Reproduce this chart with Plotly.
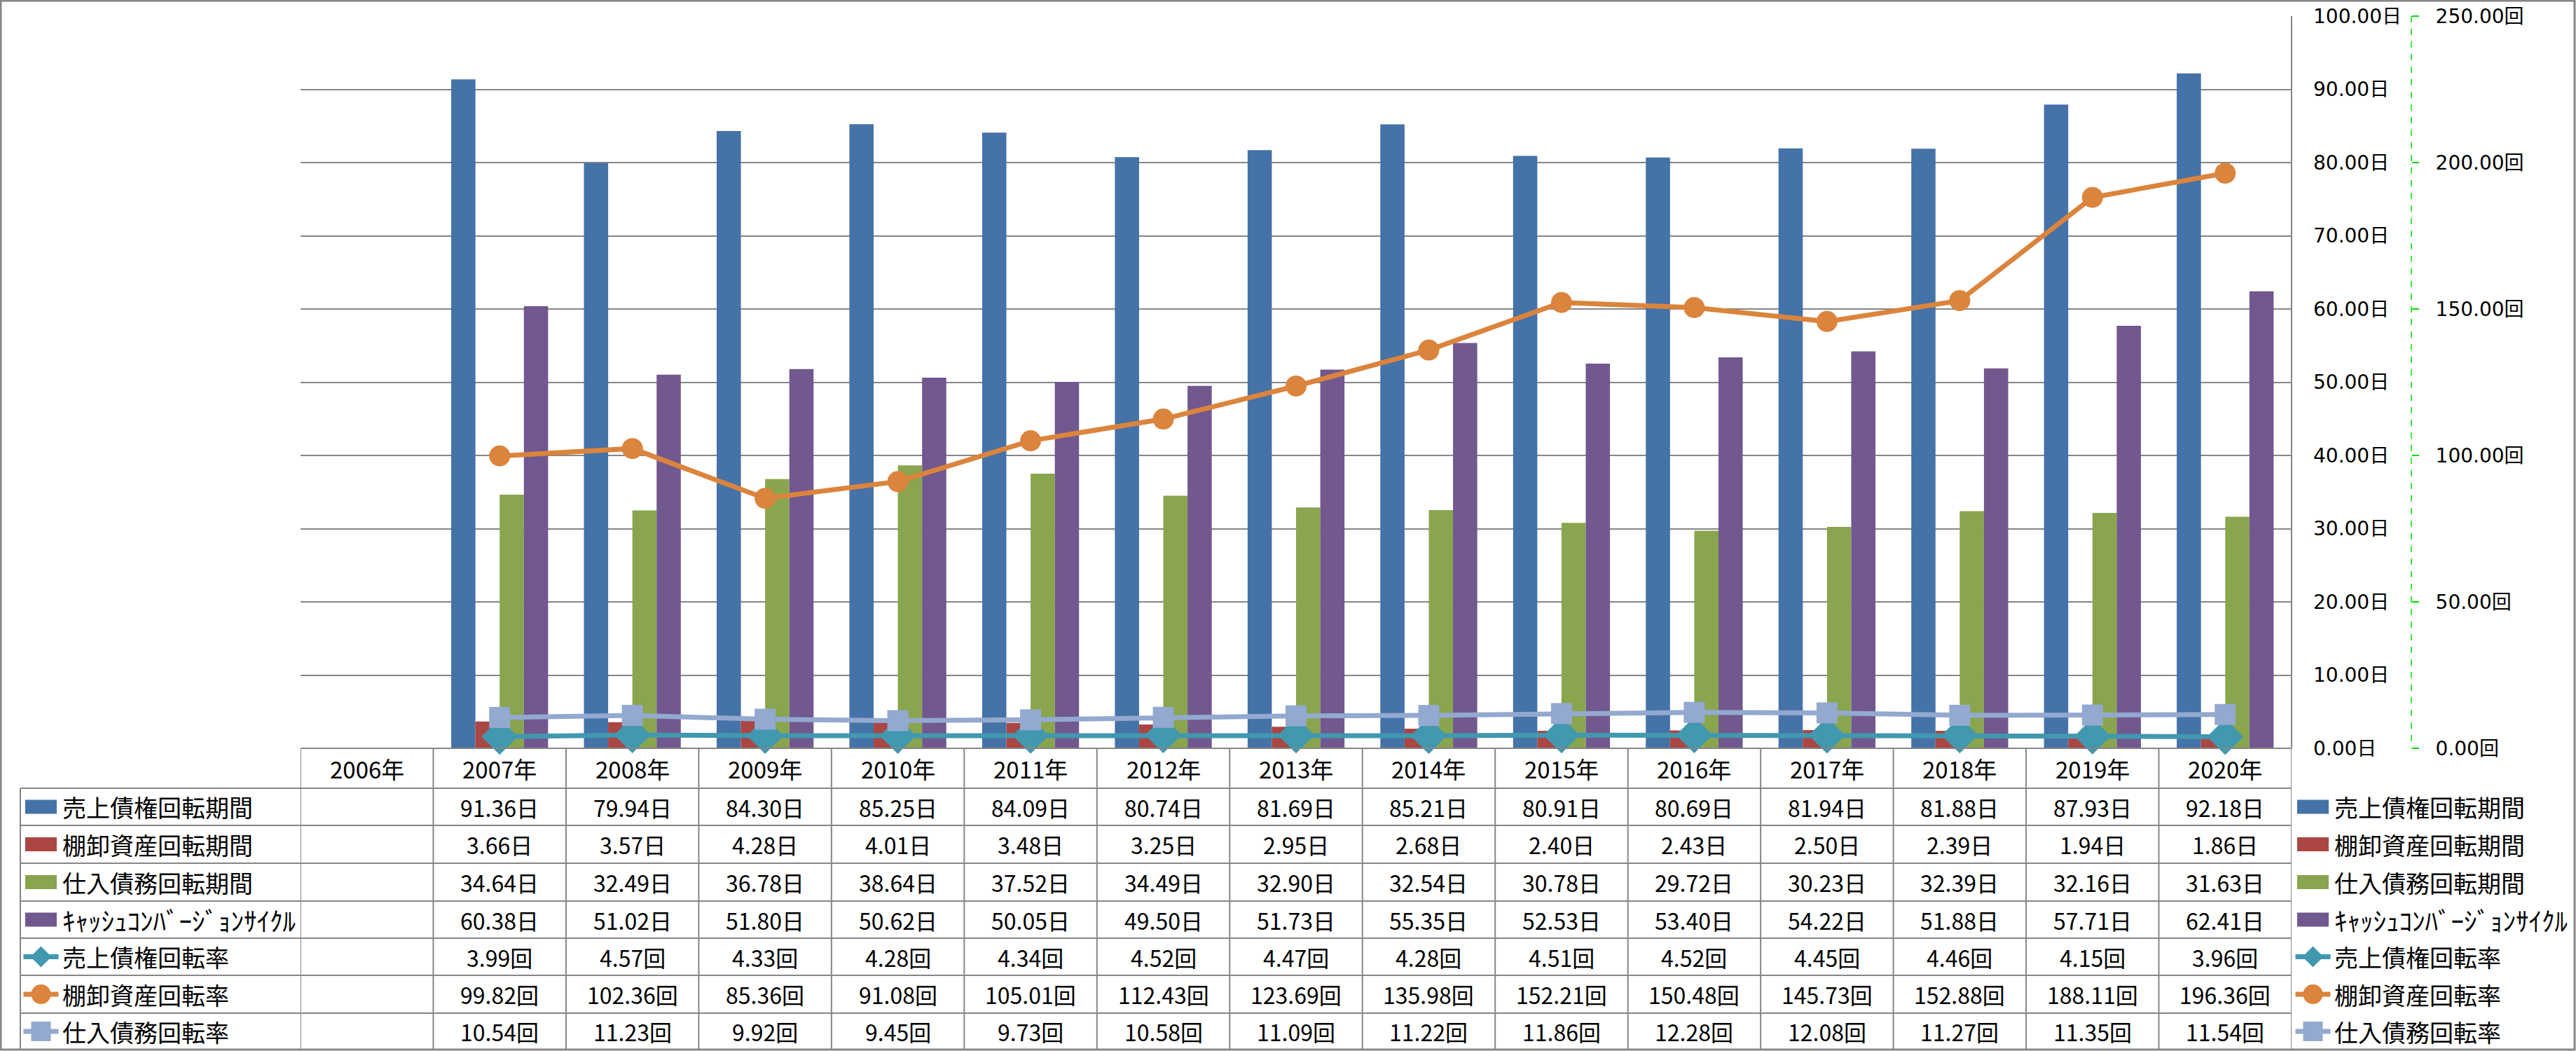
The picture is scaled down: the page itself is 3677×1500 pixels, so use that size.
import plotly.graph_objects as go

# ---------------- data ----------------
categories = ["2006年", "2007年", "2008年", "2009年", "2010年", "2011年", "2012年", "2013年",
              "2014年", "2015年", "2016年", "2017年", "2018年", "2019年", "2020年"]

ar_days = [None, 91.36, 79.94, 84.30, 85.25, 84.09, 80.74, 81.69, 85.21, 80.91, 80.69, 81.94, 81.88, 87.93, 92.18]
inv_days = [None, 3.66, 3.57, 4.28, 4.01, 3.48, 3.25, 2.95, 2.68, 2.40, 2.43, 2.50, 2.39, 1.94, 1.86]
ap_days = [None, 34.64, 32.49, 36.78, 38.64, 37.52, 34.49, 32.90, 32.54, 30.78, 29.72, 30.23, 32.39, 32.16, 31.63]
ccc_days = [None, 60.38, 51.02, 51.80, 50.62, 50.05, 49.50, 51.73, 55.35, 52.53, 53.40, 54.22, 51.88, 57.71, 62.41]
ar_turn = [None, 3.99, 4.57, 4.33, 4.28, 4.34, 4.52, 4.47, 4.28, 4.51, 4.52, 4.45, 4.46, 4.15, 3.96]
inv_turn = [None, 99.82, 102.36, 85.36, 91.08, 105.01, 112.43, 123.69, 135.98, 152.21, 150.48, 145.73, 152.88, 188.11, 196.36]
ap_turn = [None, 10.54, 11.23, 9.92, 9.45, 9.73, 10.58, 11.09, 11.22, 11.86, 12.28, 12.08, 11.27, 11.35, 11.54]

bar_names = ["売上債権回転期間", "棚卸資産回転期間", "仕入債務回転期間", "ｷｬｯｼｭｺﾝﾊﾞｰｼﾞｮﾝｻｲｸﾙ"]
line_names = ["売上債権回転率", "棚卸資産回転率", "仕入債務回転率"]
bar_series = [ar_days, inv_days, ap_days, ccc_days]
line_series = [ar_turn, inv_turn, ap_turn]
bar_colors = ["#4572A7", "#AA4643", "#89A54E", "#71588F"]
line_colors = ["#4198AF", "#DB843D", "#93A9CF"]
line_symbols = ["diamond", "circle", "square"]
line_marker_sizes = [40, 30, 30]

# ---------------- geometry (pixels) ----------------
W, H = 3677, 1500
PL, PR, PT, PB = 429, 3271, 23, 1068
ROW_EDGES = [1068, 1125, 1178, 1232, 1286, 1339, 1392, 1446, 1498]
TABLE_LEFT = 29
AX2_X = 3442
GRAY = "#868686"
TXT_FONT = "Noto Sans CJK JP"
AX_FONT = "DejaVu Sans, Noto Sans CJK JP"


def px(x):
    return x / W


def py(y):
    return 1 - y / H


fig = go.Figure()

for name, vals, col in zip(bar_names, bar_series, bar_colors):
    fig.add_trace(go.Bar(x=categories, y=vals, name=name, marker=dict(color=col, line=dict(width=0)),
                         yaxis="y", showlegend=False))

for name, vals, col, sym, sz in zip(line_names, line_series, line_colors, line_symbols, line_marker_sizes):
    fig.add_trace(go.Scatter(x=categories, y=vals, name=name, yaxis="y2", mode="lines+markers",
                             line=dict(color=col, width=7),
                             marker=dict(symbol=sym, size=sz, color=col, line=dict(width=0)),
                             showlegend=False, cliponaxis=False))

shapes = []
annotations = []

# table horizontal lines
for i, y in enumerate(ROW_EDGES):
    x0 = PL if i == 0 else TABLE_LEFT
    shapes.append(dict(type="line", xref="paper", yref="paper", x0=px(x0), x1=px(PR),
                       y0=py(y), y1=py(y), line=dict(color=GRAY, width=2)))
# table vertical lines at category boundaries
for i in range(len(categories) + 1):
    shapes.append(dict(type="line", xref="x", yref="paper", x0=i - 0.5, x1=i - 0.5,
                       y0=py(ROW_EDGES[0]), y1=py(ROW_EDGES[-1]), line=dict(color=GRAY, width=2)))
# left border of row headers
shapes.append(dict(type="line", xref="paper", yref="paper", x0=px(TABLE_LEFT), x1=px(TABLE_LEFT),
                   y0=py(ROW_EDGES[1]), y1=py(ROW_EDGES[-1]), line=dict(color=GRAY, width=2)))
# plot right border
shapes.append(dict(type="line", xref="paper", yref="paper", x0=px(PR), x1=px(PR),
                   y0=py(PT), y1=py(PB), line=dict(color=GRAY, width=2)))
# secondary axis dashed line
shapes.append(dict(type="line", xref="paper", yref="paper", x0=px(AX2_X), x1=px(AX2_X),
                   y0=py(PT), y1=py(PB), line=dict(color="#00DD00", width=1.5, dash="dash")))
# chart outer border
shapes.append(dict(type="rect", xref="paper", yref="paper", x0=px(1), x1=px(W - 2),
                   y0=py(1), y1=py(H - 2), line=dict(color=GRAY, width=3)))

# header row text
hc = (ROW_EDGES[0] + ROW_EDGES[1]) / 2
for c in categories:
    annotations.append(dict(x=c, xref="x", y=py(hc), yref="paper", text=c, showarrow=False,
                            font=dict(family=TXT_FONT, size=33, color="black"),
                            xanchor="center", yanchor="middle"))

row_names = bar_names + line_names
row_series = bar_series + line_series
row_units = ["日"] * 4 + ["回"] * 3


def add_key(kind, idx, cx, cy):
    if kind == "bar":
        shapes.append(dict(type="rect", xref="paper", yref="paper", x0=px(cx - 22.5), x1=px(cx + 22.5),
                           y0=py(cy - 10), y1=py(cy + 10), fillcolor=bar_colors[idx], line=dict(width=0)))
    else:
        col = line_colors[idx]
        shapes.append(dict(type="line", xref="paper", yref="paper", x0=px(cx - 25), x1=px(cx + 25),
                           y0=py(cy), y1=py(cy), line=dict(color=col, width=7)))
        sym = line_symbols[idx]
        if sym == "diamond":
            r = 15
            path = (f"M {px(cx - r)},{py(cy)} L {px(cx)},{py(cy - r)} L {px(cx + r)},{py(cy)} "
                    f"L {px(cx)},{py(cy + r)} Z")
            shapes.append(dict(type="path", xref="paper", yref="paper", path=path,
                               fillcolor=col, line=dict(width=0)))
        elif sym == "circle":
            r = 14
            shapes.append(dict(type="circle", xref="paper", yref="paper", x0=px(cx - r), x1=px(cx + r),
                               y0=py(cy - r), y1=py(cy + r), fillcolor=col, line=dict(width=0)))
        else:
            r = 14
            shapes.append(dict(type="rect", xref="paper", yref="paper", x0=px(cx - r), x1=px(cx + r),
                               y0=py(cy - r), y1=py(cy + r), fillcolor=col, line=dict(width=0)))


for r, (name, vals, unit) in enumerate(zip(row_names, row_series, row_units)):
    cy = (ROW_EDGES[r + 1] + ROW_EDGES[r + 2]) / 2
    kind = "bar" if r < 4 else "line"
    idx = r if r < 4 else r - 4
    name_size = 37 if r == 3 else 34
    # left row header
    add_key(kind, idx, 58.5, cy)
    annotations.append(dict(x=px(87), xref="paper", y=py(cy), yref="paper", text=name, showarrow=False,
                            font=dict(family=TXT_FONT, size=name_size, color="black"),
                            xanchor="left", yanchor="middle"))
    # right legend
    add_key(kind, idx, 3301.5, cy)
    annotations.append(dict(x=px(3330), xref="paper", y=py(cy), yref="paper", text=name, showarrow=False,
                            font=dict(family=TXT_FONT, size=name_size, color="black"),
                            xanchor="left", yanchor="middle"))
    # values
    for c, v in zip(categories, vals):
        if v is None:
            continue
        annotations.append(dict(x=c, xref="x", y=py(cy), yref="paper", text=f"{v:.2f}{unit}",
                                showarrow=False, font=dict(family=TXT_FONT, size=32, color="black"),
                                xanchor="center", yanchor="middle"))

fig.update_layout(
    width=W, height=H, autosize=False,
    margin=dict(l=0, r=0, t=0, b=0, pad=0, autoexpand=False),
    paper_bgcolor="white", plot_bgcolor="white",
    barmode="group", bargap=0.27, bargroupgap=0,
    xaxis=dict(domain=[px(PL), px(PR)], type="category", categoryorder="array",
               categoryarray=categories, range=[-0.5, len(categories) - 0.5], automargin=False,
               showticklabels=False, showgrid=False, zeroline=False, showline=False, ticks=""),
    yaxis=dict(domain=[py(PB), py(PT)], range=[0, 100], dtick=10, side="right", automargin=False,
               tickformat=".2f", ticksuffix="日", showgrid=True, gridcolor=GRAY, gridwidth=2,
               zeroline=False, showline=False, ticks="", ticklabelstandoff=30,
               tickfont=dict(family=AX_FONT, size=28, color="black")),
    yaxis2=dict(overlaying="y", side="right", anchor="free", position=px(AX2_X), automargin=False,
                range=[0, 250], dtick=50, tickformat=".2f", ticksuffix="回",
                showgrid=False, zeroline=False, showline=False,
                ticks="outside", ticklen=10, tickcolor="#00DD00", tickwidth=1.5,
                ticklabelstandoff=18,
                tickfont=dict(family=AX_FONT, size=28, color="black")),
    shapes=shapes,
    annotations=annotations,
)

fig.write_html("out.html", config={"displayModeBar": False, "responsive": False},
               post_script="document.body.style.margin='0';document.body.style.overflow='hidden';")
